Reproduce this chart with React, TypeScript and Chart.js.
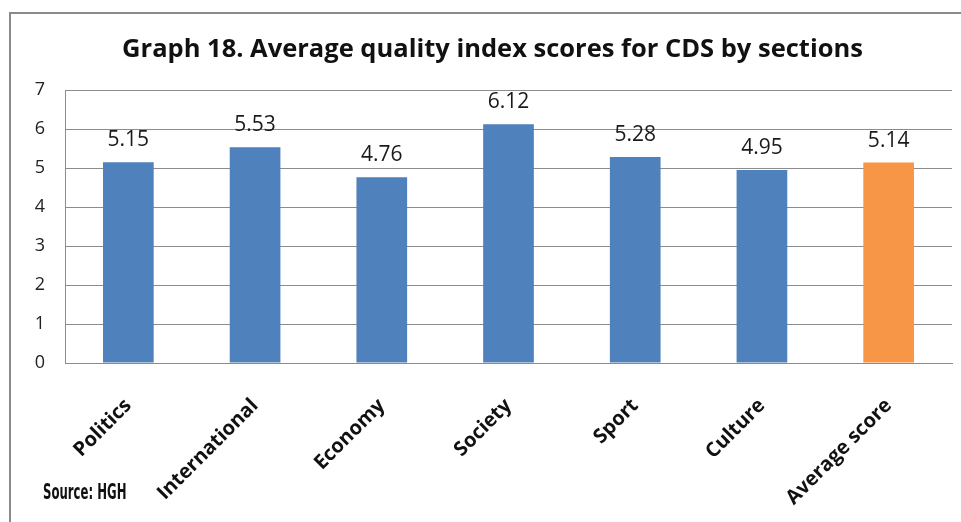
import React, { useEffect, useRef } from "react";
import { Chart, registerables } from "chart.js";

Chart.register(...registerables);

const categories = ["Politics", "International", "Economy", "Society", "Sport", "Culture", "Average score"];
const scores = [5.15, 5.53, 4.76, 6.12, 5.28, 4.95, 5.14];
const barColors = ["#4F81BD", "#4F81BD", "#4F81BD", "#4F81BD", "#4F81BD", "#4F81BD", "#F79646"];
const yTicks = [0, 1, 2, 3, 4, 5, 6, 7];
const titleText = "Graph 18. Average quality index scores for CDS by sections";
const sourceText = "Source: HGH";

const valueLabels = {
  id: "valueLabels",
  afterDatasetsDraw(chart: any) {
    const ctx = chart.ctx;
    const meta = chart.getDatasetMeta(0);
    ctx.save();
    ctx.font = "21px 'Open Sans'";
    ctx.fillStyle = "#1a1a1a";
    ctx.textAlign = "center";
    ctx.textBaseline = "alphabetic";
    meta.data.forEach((el: any, i: number) => {
      ctx.fillText(scores[i].toFixed(2), el.x, el.y - 16);
    });
    ctx.restore();
  },
};

export default function App() {
  const ref = useRef<HTMLCanvasElement>(null);
  useEffect(() => {
    if (!ref.current) return;
    const chart = new Chart(ref.current, {
      type: "bar",
      data: {
        labels: categories,
        datasets: [
          {
            data: scores,
            backgroundColor: barColors,
            categoryPercentage: 1,
            barPercentage: 0.4,
          },
        ],
      },
      options: {
        responsive: false,
        animation: false,
        layout: { padding: { left: 33, right: 9, top: 0, bottom: 0 } },
        plugins: {
          legend: { display: false },
          tooltip: { enabled: false },
          title: {
            display: true,
            text: titleText,
            color: "#111",
            font: { family: "'Open Sans'", size: 25.5, weight: "bold", lineHeight: 1.2 },
            padding: { top: 34, bottom: 25.4 },
          },
        },
        scales: {
          x: {
            grid: { display: false },
            border: { display: true, color: "#8c8c8c", width: 1 },
            ticks: {
              color: "#111",
              font: { family: "'Open Sans'", size: 20, weight: "bold" },
              maxRotation: 45,
              minRotation: 45,
              padding: 23,
            },
            afterFit: (s: any) => {
              s.height = 159;
            },
          },
          y: {
            min: 0,
            max: 7,
            afterBuildTicks: (s: any) => {
              s.ticks = yTicks.map((v) => ({ value: v }));
            },
            grid: { color: "#8c8c8c", lineWidth: 1, drawTicks: false },
            border: { display: true, color: "#8c8c8c", width: 1 },
            ticks: {
              color: "#222",
              font: { family: "'Open Sans'", size: 18 },
              padding: 20,
            },
            afterFit: (s: any) => {
              s.width = 32;
            },
          },
        },
      },
      plugins: [valueLabels],
    });
    return () => chart.destroy();
  }, []);

  return (
    <div style={{ position: "fixed", left: 0, top: 0, width: 961, height: 522, background: "#fff", overflow: "hidden" }}>
      <div
        style={{
          position: "absolute",
          left: 9,
          top: 12,
          width: 960,
          height: 520,
          borderTop: "2px solid #8a8a8a",
          borderLeft: "2px solid #8a8a8a",
        }}
      />
      <canvas ref={ref} width={961} height={522} style={{ position: "absolute", left: 0, top: 0 }} />
      <div
        style={{
          position: "absolute",
          left: 43,
          top: 480,
          fontFamily: "'Liberation Sans Narrow', 'DejaVu Sans Condensed', sans-serif",
          fontSize: 21,
          fontWeight: "bold",
          color: "#111",
          transform: "scaleX(0.62)",
          transformOrigin: "left top",
          whiteSpace: "nowrap",
          lineHeight: "24px",
        }}
      >
        {sourceText}
      </div>
    </div>
  );
}
